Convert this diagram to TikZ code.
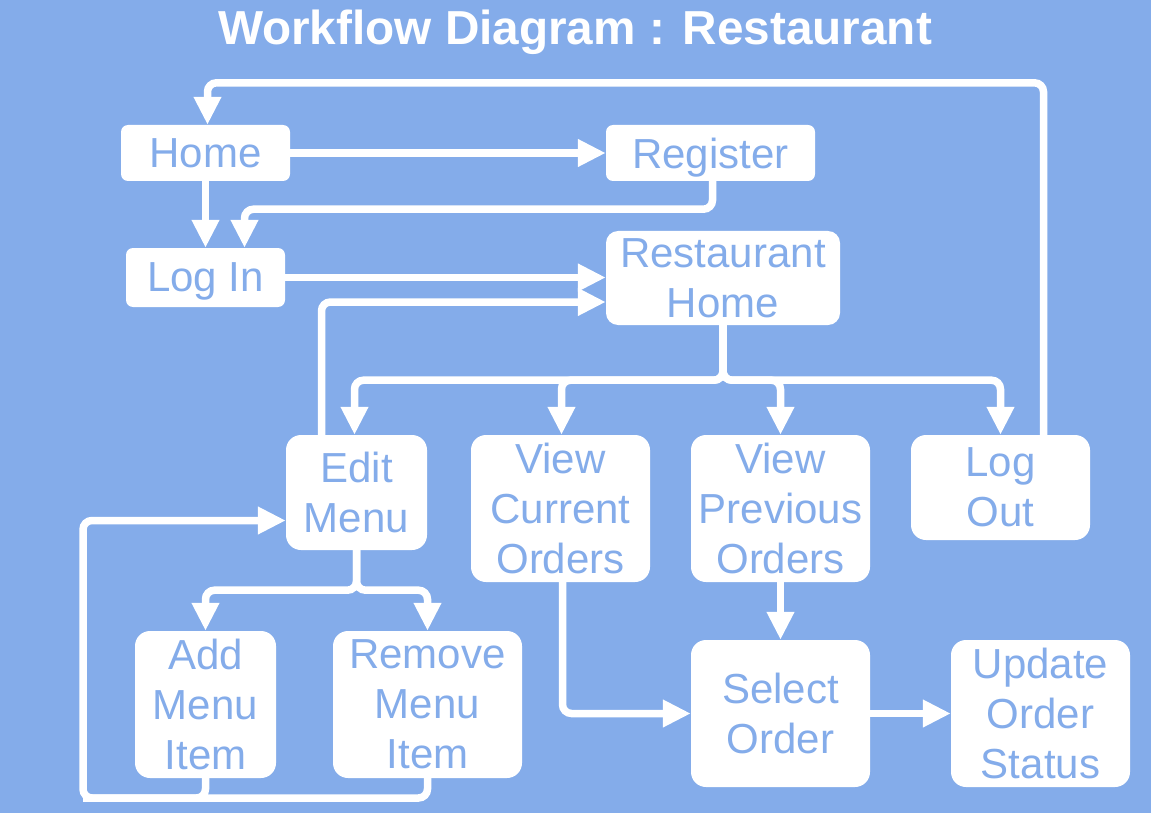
\documentclass[tikz,border=0pt]{standalone}
\usepackage{fontspec}
\setmainfont{Liberation Sans}
\usetikzlibrary{arrows.meta,calc}
\definecolor{bg}{RGB}{132,172,234}
\begin{document}
\begin{tikzpicture}[x=1pt,y=-1pt,
  box/.style={fill=white, text=bg, inner sep=0pt, align=center,
    font=\fontsize{42}{50}\selectfont, rounded corners=#1},
  box/.default=15pt,
  conn/.style={draw=white, line width=7.5pt, rounded corners=9pt},
  arr/.style={conn, -{Triangle[length=28pt,width=26pt]}},
  title/.style={text=white, font=\fontsize{47.7}{58}\selectfont\bfseries, anchor=base}]
\fill[bg] (0,0) rectangle (1151,813);
\node[title] (T) at (575,45) {Workflow Diagram : Restaurant};

% nodes
\node[box=7pt, minimum width=169pt, minimum height=56pt, text depth=0pt] (Home) at (205.5,153) {Home};
\node[box=7pt, minimum width=209pt, minimum height=56pt, text depth=0pt] (Reg) at (710.5,153) {Register};
\node[box=7pt, minimum width=159pt, minimum height=59pt, text depth=0pt] (LogIn) at (205.5,277.5) {Log In};
\node[box=12pt, minimum width=234pt, minimum height=94pt] (RH) at (723,278) {Restaurant\\Home};
\node[box, minimum width=141pt, minimum height=115pt] (Edit) at (356.5,492.5) {Edit\\Menu};
\node[box, minimum width=179pt, minimum height=147pt] (VC) at (560.5,508.5) {View\\Current\\Orders};
\node[box, minimum width=179pt, minimum height=147pt] (VP) at (780.5,508.5) {View\\Previous\\Orders};
\node[box, minimum width=179pt, minimum height=105pt] (LogOut) at (1000.5,487.5) {Log\\Out};
\node[box, minimum width=141pt, minimum height=147pt] (Add) at (205.5,704.5) {Add\\Menu\\Item};
\node[box, minimum width=189pt, minimum height=147pt] (Rem) at (427.5,704.5) {Remove\\Menu\\Item};
\node[box, minimum width=179pt, minimum height=147pt] (Sel) at (780.5,713.5) {Select\\Order};
\node[box, minimum width=179pt, minimum height=147pt] (Upd) at (1040.5,713.5) {Update\\Order\\Status};

\coordinate (loopL) at (83,798);

% connectors
\draw[arr] (Home.east) -- (Reg.west);
\draw[arr] (Home.south) -- (LogIn.north);
\draw[arr] ($(Reg.south)+(2,0)$) -- ++(0,28) -| ($(LogIn.north)+(39,0)$);
\draw[arr] (LogIn.east) -- (LogIn.east -| RH.west);
\draw[arr] ($(Edit.north)+(-35,0)$) |- ($(RH.west)+(0,24)$);
\draw[arr] (RH.south) -- ++(0,55) -| ($(Edit.north)+(-2,0)$);
\draw[arr] (RH.south) -- ++(0,55) -| ($(VC.north)+(1,0)$);
\draw[arr] (RH.south) -- ++(0,55) -| (VP.north);
\draw[arr] (RH.south) -- ++(0,55) -| (LogOut.north);
\draw[arr] ($(LogOut.north)+(43,0)$) -- ++(0,-352) -| ($(Home.north)+(2,0)$);
\draw[arr] (Edit.south) -- ++(0,40) -| (Add.north);
\draw[arr] (Edit.south) -- ++(0,40) -| (Rem.north);
\draw[conn] (Add.south) |- (loopL);
\draw[arr] (Rem.south) |- (loopL) |- ($(Edit.west)+(0,28)$);
\draw[arr] ($(VC.south)+(2,0)$) |- (Sel.west);
\draw[arr] (VP.south) -- (Sel.north);
\draw[arr] (Sel.east) -- (Upd.west);
\end{tikzpicture}
\end{document}
